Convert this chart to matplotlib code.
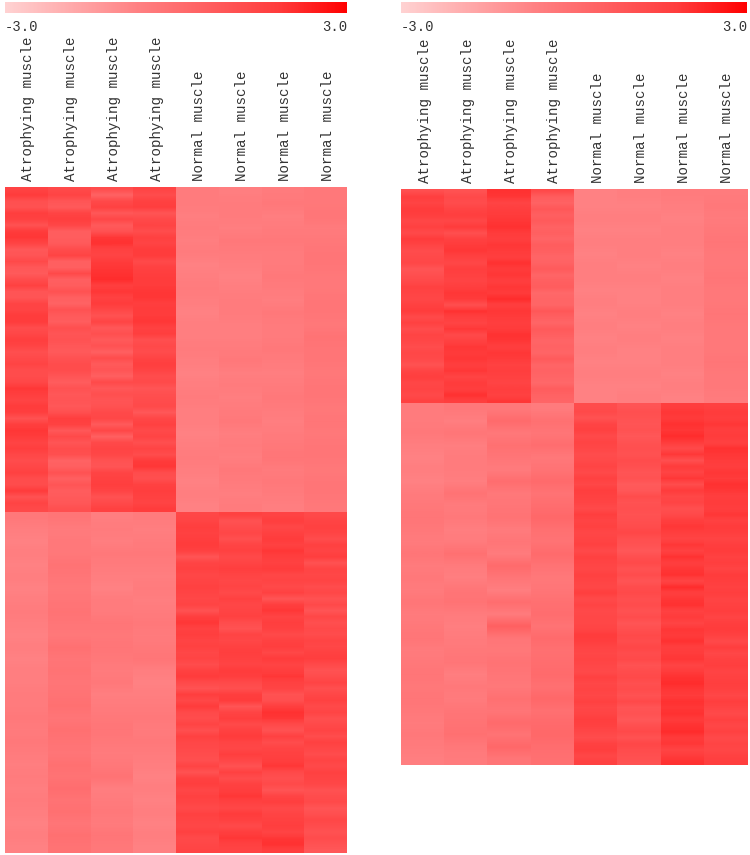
import numpy as np
import matplotlib
matplotlib.use('Agg')
import matplotlib.pyplot as plt
from matplotlib.colors import LinearSegmentedColormap, Normalize
from matplotlib.cm import ScalarMappable
from matplotlib.transforms import ScaledTranslation

plt.rcParams['font.family'] = ['Liberation Mono', 'DejaVu Sans Mono']

sample_labels = ['Atrophying muscle'] * 4 + ['Normal muscle'] * 4

lt_a1 = [1.5,1.8,1.1,1.0,1.7,1.6,1.0,1.8,1.9,1.5,
         0.8,0.9,1.3,0.8,0.7,1.2,1.6,0.9,0.9,1.5,
         1.5,1.8,1.8,1.2,1.4,1.7,1.5,1.1,1.3,1.5,
         1.2,1.2,1.4,1.9,1.7,1.5,1.8,1.7,1.0,1.7,
         1.9,1.8,1.5,1.7,1.4,1.2,1.4,1.6,1.2,1.2,
         1.8,1.0,1.5,1.3]
lt_a2 = [1.3,1.5,0.9,0.7,1.5,1.7,1.4,0.6,0.6,0.7,
         1.2,1.5,0.5,0.5,1.3,0.5,0.6,1.0,0.5,0.4,
         1.0,0.7,0.6,1.1,0.9,1.0,0.8,0.7,1.0,1.2,
         1.2,0.9,0.6,1.0,0.8,0.9,0.8,1.1,1.7,1.6,
         0.8,1.3,0.9,1.2,1.1,0.4,0.5,1.0,0.5,0.9,
         0.6,0.7,0.8,1.1]
lt_a3 = [1.2,0.4,1.3,1.6,0.8,1.4,0.7,1.0,1.9,2.0,
         1.6,1.5,1.8,1.9,2.0,2.1,1.7,1.9,1.6,1.8,
         1.4,1.0,1.5,0.8,1.1,0.7,1.0,0.5,1.2,0.7,
         0.9,0.5,1.3,0.8,1.1,0.9,1.0,1.3,1.4,0.7,
         1.4,0.5,1.3,1.5,1.4,1.0,0.9,1.5,1.6,1.7,
         1.5,1.0,1.3,1.6]
lt_a4 = [1.5,1.2,1.6,1.7,0.9,1.3,1.5,1.2,1.6,1.5,
         1.8,1.8,1.3,1.6,1.7,1.8,1.8,1.9,1.9,1.7,
         1.8,1.8,1.9,1.6,1.7,1.1,1.3,1.2,1.5,1.7,
         1.5,1.2,1.3,0.9,1.1,1.2,1.3,0.8,1.4,1.6,
         1.3,1.5,1.1,1.5,1.2,1.8,1.9,1.2,1.1,1.6,
         1.7,1.6,1.5,1.8]
lt_n1 = [-0.5,-0.5,-0.6,-0.5,-0.6,-0.5,-0.7,-0.6,-0.5,-0.6,-0.7,-0.6,-0.6,-0.5,
         -0.6,-0.7,-0.6,-0.5,-0.6,-0.6,-0.7,-0.6,-0.5,-0.6,-0.7,-0.6,-0.7]
lt_n2 = [-0.6,-0.5,-0.5,-0.6,-0.4,-0.5,-0.6,-0.7,-0.6,-0.5,-0.5,-0.6,-0.6,-0.5,
         -0.4,-0.6,-0.5,-0.6,-0.5,-0.4,-0.6,-0.5,-0.6,-0.4,-0.5,-0.6,-0.5]
lt_n3 = [-0.5,-0.4,-0.6,-0.5,-0.4,-0.5,-0.5,-0.4,-0.5,-0.6,-0.4,-0.5,-0.5,-0.4,
         -0.5,-0.6,-0.5,-0.4,-0.5,-0.6,-0.5,-0.4,-0.3,-0.5,-0.4,-0.5,-0.6]
lt_n4 = [-0.4,-0.4,-0.3,-0.5,-0.4,-0.3,-0.3,-0.4,-0.4,-0.3,-0.3,-0.4,-0.2,-0.3,
         -0.3,-0.4,-0.3,-0.3,-0.4,-0.3,-0.4,-0.3,-0.3,-0.4,-0.3,-0.3,-0.4]

# left panel, lower cluster
lb_a1 = [-0.4,-0.6,-0.7,-0.6,-0.7,-0.6,-0.7,-0.6,-0.5,-0.6,-0.7,-0.6,-0.7,-0.6,
         -0.6,-0.5,-0.5,-0.4,-0.5,-0.4,-0.5,-0.6,-0.5,-0.6,-0.5,-0.6,-0.7,-0.6,-0.7]
lb_a2 = [-0.3,-0.5,-0.4,-0.4,-0.2,-0.3,-0.4,-0.3,-0.2,-0.3,-0.4,-0.1,-0.3,-0.2,
         -0.3,-0.2,-0.1,-0.3,-0.1,-0.2,-0.3,-0.1,-0.2,0.0,-0.2,-0.1,-0.3,-0.1,-0.2]
lb_a3 = [-0.6,-0.5,-0.6,-0.4,-0.5,-0.6,-0.7,-0.5,-0.5,-0.3,-0.4,-0.3,-0.4,-0.5,
         -0.4,-0.6,-0.5,-0.4,-0.3,-0.4,-0.5,-0.4,-0.2,-0.6,-0.5,-0.4,-0.5,-0.3,-0.4]
lb_a4 = [-0.5,-0.6,-0.5,-0.4,-0.5,-0.6,-0.5,-0.6,-0.5,-0.4,-0.5,-0.4,-0.3,-0.6,
         -0.7,-0.6,-0.5,-0.4,-0.5,-0.4,-0.5,-0.6,-0.7,-0.6,-0.7,-0.6,-0.7,-0.6,-0.7]
lb_n1 = [1.4,1.5,1.7,1.6,1.7,1.8,1.6,0.9,1.5,1.6,
         1.4,1.5,1.6,1.5,1.4,1.5,1.0,1.7,1.9,1.6,
         1.7,1.5,1.6,1.4,1.5,1.2,1.6,1.8,1.3,1.0,
         1.7,1.4,1.8,1.3,1.2,1.5,1.1,1.6,1.4,1.3,
         1.2,1.1,1.5,1.0,1.6,1.7,1.4,1.6,1.5,1.3,
         1.6,1.5,1.4,1.6,1.3,1.4,1.5]
lb_n2 = [1.6,1.0,1.2,1.4,1.1,1.5,1.6,1.3,1.5,1.7,
         1.5,1.4,1.5,1.3,1.6,1.4,1.5,1.6,1.2,1.0,
         1.5,1.4,1.6,1.7,1.6,1.5,1.8,1.7,1.3,1.1,
         1.7,1.8,0.9,1.5,1.7,1.3,1.6,1.8,1.5,1.4,
         1.7,1.4,1.0,1.6,1.2,1.6,1.7,1.9,1.6,1.4,
         1.8,1.6,1.3,1.7,1.9,1.6,1.5]
lb_n3 = [1.5,1.7,1.4,1.6,1.8,1.6,1.9,1.7,1.6,1.8,
         1.4,1.5,1.3,1.6,0.9,1.7,1.9,1.5,1.7,1.6,
         1.3,1.6,1.7,1.4,1.8,1.5,1.7,1.9,1.6,1.5,
         1.0,1.1,1.7,2.0,1.9,1.3,1.0,1.6,1.2,1.5,
         1.6,1.7,1.9,1.3,1.1,1.3,0.9,1.5,1.7,1.3,
         1.5,1.6,1.7,1.5,1.9,2.0,1.7]
lb_n4 = [1.3,1.5,1.6,1.5,1.2,1.6,1.5,1.7,1.0,1.5,
         1.4,1.5,1.2,1.4,1.0,1.3,0.9,1.4,1.1,1.3,
         1.2,1.5,1.4,1.6,1.7,1.3,1.0,1.2,1.5,1.1,
         1.4,1.6,1.3,1.5,1.1,1.3,1.5,1.2,1.6,1.4,
         1.2,1.5,1.3,1.6,1.5,1.4,1.0,1.2,1.3,0.9,
         1.1,1.4,1.2,1.0,1.2,1.0,0.8]

# right panel, upper cluster
rt_a1 = [1.1,1.7,1.5,1.8,1.7,1.4,1.6,1.3,1.8,1.5,
         1.2,1.3,1.4,0.9,1.1,1.3,1.6,1.5,1.4,1.6,
         1.8,1.3,1.6,1.2,1.5,1.4,1.2,1.4,1.3,1.0,
         1.5,1.7,1.4,1.5,1.3,1.6]
rt_a2 = [1.0,1.3,1.2,1.5,1.7,1.4,1.8,1.1,1.6,1.8,
         1.9,1.6,1.4,1.7,1.6,1.5,1.7,1.9,1.8,1.1,
         2.0,1.7,1.5,1.9,1.3,1.6,1.9,1.8,1.9,1.7,
         1.9,1.5,1.8,1.7,2.0,1.7]
rt_a3 = [2.0,1.9,1.5,1.7,1.8,1.9,2.0,1.8,1.7,1.9,
         1.8,1.7,2.0,1.8,1.9,1.7,1.9,1.8,2.1,1.7,
         1.9,1.8,1.7,1.8,2.0,1.9,1.7,1.9,1.8,1.6,
         1.7,1.6,1.5,1.7,1.6,1.9]
rt_a4 = [1.3,0.6,0.4,0.8,0.5,0.7,0.4,0.5,0.3,0.6,
         0.5,0.3,0.4,0.7,0.3,0.5,0.6,0.2,0.3,0.3,
         0.8,0.5,0.3,0.7,0.5,0.3,0.4,0.3,0.7,0.3,
         0.4,0.3,0.2,0.6,0.4,0.3]
rt_n1 = [-0.7,-0.7,-0.6,-0.7,-0.6,-0.7,-0.6,-0.6,-0.7,-0.6,-0.7,-0.6,-0.7,-0.6,-0.7,-0.6,-0.7,-0.7]
rt_n2 = [-0.6,-0.7,-0.6,-0.7,-0.6,-0.6,-0.7,-0.6,-0.7,-0.7,-0.6,-0.7,-0.6,-0.7,-0.7,-0.6,-0.7,-0.6]
rt_n3 = [-0.5,-0.6,-0.7,-0.6,-0.6,-0.7,-0.6,-0.7,-0.6,-0.6,-0.7,-0.6,-0.7,-0.6,-0.6,-0.7,-0.6,-0.7]
rt_n4 = [-0.5,-0.4,-0.5,-0.4,-0.3,-0.4,-0.4,-0.3,-0.4,-0.4,-0.3,-0.4,-0.4,-0.4,-0.3,-0.4,-0.4,-0.5]

# right panel, lower cluster
rb_a1 = [-0.5,-0.5,-0.4,-0.6,-0.7,-0.6,-0.7,-0.5,-0.4,-0.3,-0.4,-0.5,-0.3,-0.5,-0.4,
         -0.5,-0.3,-0.5,-0.4,-0.3,-0.5,-0.4,-0.3,-0.4,-0.3,-0.4,-0.5,-0.4,-0.5,-0.6]
rb_a2 = [-0.4,-0.6,-0.3,-0.6,-0.5,-0.5,-0.6,-0.2,-0.5,-0.4,-0.6,-0.5,-0.1,-0.5,-0.6,
         -0.3,-0.2,-0.5,-0.6,-0.5,-0.4,-0.3,-0.6,-0.4,-0.5,-0.3,-0.2,-0.1,-0.4,-0.5]
rb_a3 = [-0.4,0.1,-0.4,-0.1,-0.3,-0.5,0.0,-0.4,-0.3,-0.2,-0.5,-0.3,-0.5,0.1,-0.3,
         -0.6,0.0,-0.5,0.5,-0.3,-0.4,-0.2,-0.3,-0.4,-0.1,-0.3,0.1,-0.2,0.2,-0.3]
rb_a4 = [-0.5,-0.1,-0.3,0.0,-0.4,-0.2,0.1,-0.2,0.0,0.2,-0.1,-0.2,0.1,-0.2,-0.4,
         -0.3,-0.1,0.0,-0.2,0.1,-0.1,0.0,0.1,-0.1,0.2,-0.1,0.1,0.2,0.0,-0.1]
rb_n1 = [1.2,1.3,1.0,1.5,1.6,1.3,1.5,1.4,1.2,1.3,
         1.5,1.3,1.6,1.4,1.7,1.6,1.5,1.3,1.7,1.5,
         1.6,1.4,1.5,1.6,1.3,1.6,1.5,1.4,1.6,1.5,
         1.4,1.7,1.3,1.5,1.3,1.4,1.4,1.5,1.8,1.7,
         1.5,1.4,1.5,1.4,1.3,1.6,1.4,1.5,1.4,1.6,
         1.4,1.5,1.7,1.6,1.4,1.2,1.6,1.7,1.4,1.6]
rb_n2 = [0.9,1.1,1.0,0.9,1.0,0.8,1.0,1.1,1.0,1.2,
         1.1,0.9,1.0,0.7,0.8,1.2,1.0,1.1,1.0,1.1,
         1.2,1.4,1.1,1.0,0.8,1.1,1.3,1.0,1.2,0.9,
         1.2,1.3,1.1,1.2,1.0,1.2,0.9,1.1,1.3,1.2,
         1.4,1.2,1.3,1.0,1.2,1.3,1.1,1.2,1.0,1.3,
         0.9,1.0,0.8,1.1,1.3,1.0,1.4,1.2,1.1,1.0]
rb_n3 = [1.7,1.9,1.8,2.0,1.9,2.1,1.8,1.3,1.9,1.1,
         1.8,1.5,1.9,1.2,1.8,1.4,1.5,1.1,1.3,1.7,
         1.9,1.7,1.5,1.9,1.6,2.0,1.7,1.9,2.0,1.5,
         2.1,1.7,1.9,2.0,1.6,1.8,1.5,1.9,1.8,2.0,
         1.7,1.8,1.9,1.5,1.8,2.0,2.1,1.9,1.8,2.0,
         1.9,2.0,1.8,2.0,2.1,1.8,1.9,1.5,1.8,2.0]
rb_n4 = [1.6,1.8,1.7,1.9,1.7,1.8,1.6,2.0,1.9,1.8,
         1.7,1.9,1.8,2.0,1.9,1.7,1.8,1.7,1.9,1.6,
         1.8,1.7,1.5,1.7,1.8,1.6,1.7,1.5,1.8,1.7,
         1.6,1.7,1.5,1.6,1.7,1.5,1.7,1.8,1.6,1.3,
         1.7,1.4,1.6,1.7,1.5,1.6,1.7,1.6,1.4,1.7,
         1.5,1.3,1.6,1.4,1.6,1.3,1.5,1.4,1.6,1.7]

left_top = [lt_a1, lt_a2, lt_a3, lt_a4, lt_n1, lt_n2, lt_n3, lt_n4]
left_bottom = [lb_a1, lb_a2, lb_a3, lb_a4, lb_n1, lb_n2, lb_n3, lb_n4]
right_top = [rt_a1, rt_a2, rt_a3, rt_a4, rt_n1, rt_n2, rt_n3, rt_n4]
right_bottom = [rb_a1, rb_a2, rb_a3, rb_a4, rb_n1, rb_n2, rb_n3, rb_n4]

cmap = LinearSegmentedColormap.from_list(
    'pinkred', [(0, '#FFD2D2'), (0.4, '#FF7E80'), (0.8, '#FF3C3C'), (1, '#FF0000')])
norm = Normalize(vmin=-3, vmax=3)

fig = plt.figure(figsize=(7.5, 8.55), dpi=100)


def px_axes(x0, y0, x1, y1):
    return fig.add_axes([x0 / 750, 1 - y1 / 855, (x1 - x0) / 750, (y1 - y0) / 855])


def draw_panel(x0, x1, y0, y_split, y1, top, bottom):
    # colour scale on top of the panel
    cax = px_axes(x0, 2, x1, 13)
    cb = fig.colorbar(ScalarMappable(norm=norm, cmap=cmap), cax=cax,
                      orientation='horizontal', ticks=[-3, 3])
    cb.outline.set_visible(False)
    cb.ax.set_xticklabels(['-3.0', '3.0'], fontsize=10, color='#333333')
    cb.ax.tick_params(length=0, pad=5)
    labs = cb.ax.get_xticklabels()
    labs[0].set_ha('left')
    labs[1].set_ha('right')

    ax = px_axes(x0, y0, x1, y1)
    n_top = y_split - y0
    n_all = y1 - y0
    for i in range(8):
        ax.imshow(np.array(top[i])[:, None], cmap=cmap, norm=norm, aspect='auto',
                  interpolation='bilinear', extent=(i, i + 1, n_top, 0))
        ax.imshow(np.array(bottom[i])[:, None], cmap=cmap, norm=norm, aspect='auto',
                  interpolation='bilinear', extent=(i, i + 1, n_all, n_top))
    ax.set_xlim(0, 8)
    ax.set_ylim(n_all, 0)
    ax.set_yticks([])
    ax.xaxis.tick_top()
    ax.set_xticks(np.arange(8) + 0.5)
    ax.set_xticklabels(sample_labels, rotation=90, fontsize=10.2, color='#333333')
    ax.tick_params(axis='x', length=0, pad=4.5)
    # labels sit a little right of the column centres
    shift = ScaledTranslation(2 / 100, 0, fig.dpi_scale_trans)
    for lab in ax.get_xticklabels():
        lab.set_transform(lab.get_transform() + shift)
    for s in ax.spines.values():
        s.set_visible(False)


draw_panel(5, 347, 187, 512, 853, left_top, left_bottom)
draw_panel(401, 747, 189, 404, 765, right_top, right_bottom)

fig.savefig('out.png', dpi=100)
